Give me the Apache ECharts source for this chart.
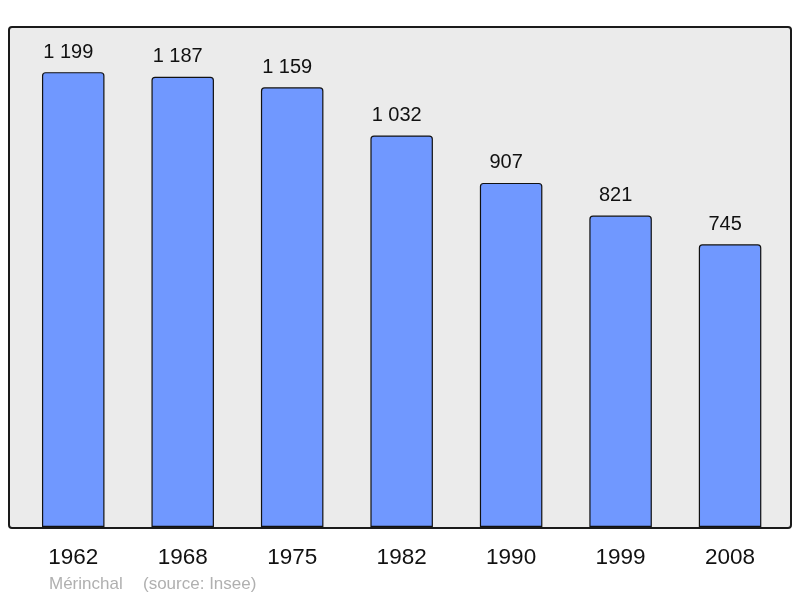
<!DOCTYPE html>
<html>
<head>
<meta charset="utf-8">
<script src="https://cdn.jsdelivr.net/npm/echarts@6/dist/echarts.min.js"></script>
<style>html,body{margin:0;padding:0;background:#fff;}#c{width:800px;height:598px;}</style>
</head>
<body>
<div id="c"></div>
<script>
const years = ['1962', '1968', '1975', '1982', '1990', '1999', '2008'];
const population = [1199, 1187, 1159, 1032, 907, 821, 745];
const commune = 'Mérinchal';
const source = '(source: Insee)';

const chart = echarts.init(document.getElementById('c'), null, {renderer: 'canvas'});
const fmt = v => String(v).replace(/\B(?=(\d{3})+(?!\d))/g, ' ');
const FONT = 'Liberation Sans, Arial, sans-serif';
chart.setOption({
  animation: false,
  textStyle: {fontFamily: FONT},
  graphic: [
    {type: 'rect', z: -10, shape: {x: 9, y: 27, width: 782, height: 501, r: 3},
     style: {fill: '#ebebeb', stroke: '#1a1a1a', lineWidth: 2}},
    {type: 'text', left: 49, top: 576, style: {text: commune, fill: '#b0b0b0', font: '17px ' + FONT}},
    {type: 'text', left: 143, top: 576, style: {text: source, fill: '#b0b0b0', font: '17px ' + FONT}}
  ],
  grid: {left: 18.5, width: 766.3, top: 27, height: 500, containLabel: false},
  xAxis: {
    type: 'category', data: years,
    axisLine: {show: false}, axisTick: {show: false},
    axisLabel: {fontSize: 22.5, color: '#111', margin: 19, fontFamily: FONT}
  },
  yAxis: {type: 'value', min: 0, max: 1318, show: false, splitLine: {show: false}},
  series: [{
    type: 'bar', data: population, barWidth: 62.5,
    itemStyle: {color: '#7098ff', borderColor: '#111', borderWidth: 1.2, borderRadius: [3, 3, 0, 0]},
    label: {show: true, position: 'top', distance: 10, offset: [-5, 0], fontSize: 20, color: '#111',
            fontFamily: FONT, formatter: p => fmt(p.value)}
  }]
});
</script>
</body>
</html>
